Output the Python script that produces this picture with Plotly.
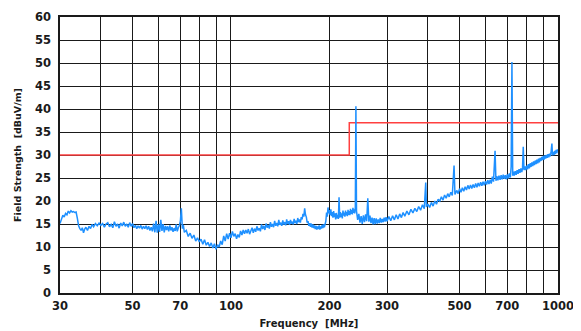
import plotly.graph_objects as go

# Limit line (class limit)
limit_freq = [30, 230, 230, 1000]
limit_level = [30, 30, 37, 37]

freq = [
    30.0, 30.3, 30.6, 30.9, 31.2, 31.5, 31.8, 32.1, 32.4, 32.7, 33.0, 33.3, 33.6, 33.9, 34.2, 34.5, 34.8,
    35.1, 35.4, 35.7, 36.0, 36.4, 36.8, 37.2, 37.6, 38.0, 38.5, 39.0, 39.5, 40.0, 40.5, 41.0, 41.5, 42.0,
    42.5, 43.0, 43.5, 44.0, 44.5, 45.0, 45.5, 46.0, 46.5, 47.0, 47.5, 48.0, 48.5, 49.0, 49.5, 50.0, 50.5,
    51.0, 51.5, 52.0, 52.5, 53.0, 53.5, 54.0, 54.5, 55.0, 55.5, 56.0, 56.5, 57.0, 57.5, 58.0, 58.5, 59.0,
    59.5, 60.0, 60.5, 61.0, 61.5, 62.0, 62.5, 63.0, 63.5, 64.0, 64.5, 65.0, 65.5, 66.0, 66.5, 67.0, 67.5,
    68.0, 68.5, 69.0, 69.5, 70.0, 70.5, 71.0, 71.5, 72.0, 73.0, 74.0, 75.0, 76.0, 77.0, 78.0, 79.0, 80.0,
    81.0, 82.0, 83.0, 84.0, 85.0, 86.0, 87.0, 88.0, 89.0, 90.0, 91.0, 92.0, 93.0, 94.0, 95.0, 96.0, 97.0,
    98.0, 99.0, 100, 101, 102, 103, 104, 105, 106, 107, 108, 109,
    110, 111, 112, 113, 114, 115, 116, 117, 118, 119, 120, 121, 122, 123, 124, 125, 126, 127, 128, 129,
    130, 131, 132, 133, 134, 135, 136, 137, 138, 139, 140, 141, 142, 143, 144, 145, 146, 147, 148, 149,
    150, 151, 152, 153, 154, 155, 156, 157, 158, 159, 160, 161, 162, 163, 164, 165, 166, 167, 168, 169,
    170, 171, 172, 173, 174, 175, 176, 177, 178, 179, 180, 181, 182, 183, 184, 185, 186, 187, 188, 189,
    190, 191, 192, 193, 194, 195, 196, 197, 198, 199, 200, 201, 202, 203, 204, 205, 206, 207, 208, 209,
    210, 211, 212, 213, 214, 215, 216, 217, 218, 219, 220, 221, 222, 223, 224, 225, 226, 227, 228, 229,
    230, 231, 232, 233, 234, 235, 236, 237, 238, 239, 240, 241,
    242, 244, 246, 248, 250, 252, 254, 256, 258, 260, 262, 264, 266, 268, 270, 272, 274, 276, 278, 280,
    282, 284, 286, 288, 290, 292, 294, 296, 298, 300,
    304, 308, 312, 316, 320, 324, 328, 332, 336, 340, 345, 350, 355, 360, 365, 370,
    375, 380, 385, 390, 394, 396, 400, 405, 410, 415, 420, 425, 430, 435, 440, 445, 450, 455, 460, 465,
    470, 475, 481, 484, 490, 495, 500, 505, 510, 515, 520, 525, 530, 535, 540, 545, 550, 555, 560, 565,
    570, 575, 580, 585, 590, 595, 600, 605, 610, 615, 620, 625, 630, 635, 642, 646, 650, 655, 660, 665,
    670, 675, 680, 685, 690, 695, 700, 705, 710, 715, 719, 723, 727, 731, 735, 740, 745, 750, 755, 760,
    765, 770, 775, 779, 783, 787, 792, 797, 802, 807, 812, 817, 822, 827, 832, 837, 842, 847, 852, 857,
    862, 867, 872, 877, 882, 887, 892, 897, 902, 907, 912, 917, 922, 927, 932, 937, 942, 947, 952, 958,
    962, 967, 972, 977, 982, 987, 992, 996, 1000,
]
level = [
    15.1, 15.8, 16.9, 16.5, 17.3, 17.0, 17.8, 17.4, 17.9, 17.6, 17.7, 17.5, 17.6, 16.2, 14.6, 14.0, 13.6,
    14.2, 13.1, 13.9, 14.3, 13.6, 14.5, 14.0, 14.9, 14.4, 15.1, 14.6, 15.2, 14.7, 15.1, 14.3, 15.0, 15.3,
    14.4, 14.9, 14.2, 15.5, 14.5, 15.0, 14.1, 15.2, 14.6, 15.4, 14.5, 15.0, 14.3, 15.3, 14.5, 15.1, 14.2,
    14.7, 14.0, 14.6, 14.1, 14.7, 13.9, 14.5, 14.0, 14.6, 13.8, 14.5, 13.6, 14.3, 13.4, 15.1, 13.2, 15.7,
    13.1, 14.9, 13.3, 15.9, 13.5, 15.0, 13.2, 14.6, 13.7, 14.5, 13.4, 14.7, 13.6, 14.3, 13.3, 14.1, 13.5,
    14.9, 13.4, 14.2, 14.6, 15.6, 18.4, 14.0, 14.8, 13.2, 13.6, 12.3, 13.0, 11.9, 12.6, 11.3, 12.0, 11.1,
    11.7, 10.6, 11.6, 10.4, 11.0, 10.1, 10.9, 9.8, 10.7, 9.5, 10.5, 10.0, 11.3, 10.5, 12.4, 11.3, 12.9,
    11.7, 13.0, 12.0, 13.4, 12.3, 12.9, 11.8, 12.7, 12.1, 13.5, 12.6, 13.7,
    12.9, 13.7, 13.0, 13.9, 12.8, 13.6, 14.2, 13.1, 14.0, 13.3, 14.5, 13.6, 14.1, 13.4, 14.9, 13.9,
    14.6, 13.7, 15.1, 14.2, 14.8, 14.0, 15.4, 14.4, 15.0, 14.3, 15.7, 14.6, 15.2, 14.5, 15.9, 14.8,
    15.3, 14.6, 15.8, 14.9, 15.4, 14.7, 16.0, 15.0, 15.6, 14.8, 15.9, 15.1, 15.5, 14.9, 16.1, 15.2,
    15.7, 15.0, 16.3, 15.4, 16.0, 15.3, 16.5, 16.0, 17.2, 16.6, 18.4, 17.0, 16.5, 15.3, 15.6, 14.6,
    15.2, 14.4, 15.1, 14.2, 14.9, 14.1, 14.7, 13.9, 14.6, 13.8, 14.5, 13.9, 14.7, 13.8, 14.5, 14.0,
    14.8, 14.1, 14.9, 14.3, 15.0, 15.6, 17.5, 16.6, 18.6, 17.3, 18.0, 16.9, 18.2, 16.7, 17.6, 16.4,
    17.8, 16.5, 17.3, 16.0, 17.4, 16.2, 17.0, 16.1, 20.8, 16.4, 17.6, 16.5, 17.3, 16.2, 17.9, 16.8,
    17.5, 16.6, 17.9, 16.9, 17.6, 16.7, 18.1, 17.0, 17.8, 16.9, 18.3, 17.2, 18.0, 17.1, 18.5, 17.4,
    18.2, 17.3, 18.6, 40.6,
    17.8, 15.9, 17.2, 15.3, 16.7, 15.0, 16.9, 15.4, 17.1, 15.6, 20.6, 15.5, 16.8, 15.2, 16.4, 14.9,
    16.3, 15.0, 16.2, 15.1, 16.0, 15.2, 16.3, 15.3, 16.1, 15.4, 16.4, 15.5, 16.5, 15.6,
    16.6, 15.7, 16.8, 15.9, 17.0, 16.1, 17.2, 16.4, 17.5, 16.7, 17.8, 17.0, 18.2, 17.4, 18.4, 17.7,
    18.8, 18.0, 19.2, 18.3, 24.0, 18.7, 19.3, 18.6, 19.7, 18.9, 20.0, 19.3, 20.4, 20.0, 20.9, 20.2,
    21.3, 20.6, 21.6, 20.9, 21.9, 21.2, 27.7, 21.4, 22.3, 21.6, 22.7, 21.9, 22.9, 22.1, 23.1, 22.4,
    23.4, 22.6, 23.5, 22.7, 23.6, 22.9, 23.8, 23.0, 23.9, 23.2, 24.1, 23.3, 24.2, 23.4, 24.3, 23.6,
    24.5, 23.7, 24.6, 23.8, 25.3, 24.2, 30.9, 24.4, 25.4, 24.5, 25.5, 24.6, 25.6, 24.7, 25.7, 24.8,
    25.6, 24.7, 25.8, 24.9, 26.0, 25.1, 27.5, 50.2, 25.5, 26.4, 25.5, 26.5, 25.7, 26.7, 25.9, 26.9,
    26.1, 27.1, 26.3, 27.2, 31.8, 26.7, 27.5, 26.7, 27.7, 26.9, 28.0, 27.1, 28.2, 27.4, 28.4, 27.6,
    28.6, 27.8, 28.8, 28.0, 29.0, 28.2, 29.2, 28.4, 29.4, 28.7, 29.6, 28.9, 29.8, 29.0, 29.9, 29.2,
    30.0, 29.4, 30.2, 29.5, 30.3, 29.7, 30.5, 32.5, 29.9, 30.7, 30.0, 30.9, 30.2, 31.1, 30.4, 31.2,
    30.8,
]

grid_vals = [30, 40, 50, 60, 70, 80, 90, 100, 200, 300, 400, 500, 600, 700, 800, 900, 1000]
grid_text = ["30", "", "50", "", "70", "", "", "100", "200", "300", "", "500", "", "700", "", "", "1000"]
y_ticks = list(range(0, 61, 5))

fig = go.Figure()
fig.add_trace(go.Scatter(x=limit_freq, y=limit_level, mode="lines",
                         line=dict(color="#ff4040", width=1.5), hoverinfo="skip"))
fig.add_trace(go.Scatter(x=freq, y=level, mode="lines",
                         line=dict(color="#1e90ff", width=1.5)))

# The page body has an 8px default margin, so the figure is sized to fit inside it.
font_family = "DejaVu Sans, Verdana, sans-serif"
fig.update_layout(
    width=573, height=323,
    margin=dict(l=52, r=23, t=9, b=38, autoexpand=False),
    paper_bgcolor="white", plot_bgcolor="white",
    showlegend=False,
    font=dict(family=font_family, color="#1a1a1a"),
)
fig.update_xaxes(
    type="log", range=[1.4771, 3.0], automargin=False,
    tickvals=grid_vals, ticktext=grid_text,
    showgrid=True, gridcolor="#1a1a1a", gridwidth=1.2,
    showline=True, linecolor="#1a1a1a", linewidth=1.5, mirror=True,
    ticks="", ticklabelstandoff=1, tickfont=dict(size=11.5, weight="bold"),
    title=dict(text="Frequency\u00a0\u00a0[MHz]", font=dict(size=10, weight="bold"), standoff=8),
    zeroline=False,
)
fig.update_yaxes(
    range=[0, 60], tickvals=y_ticks, automargin=False,
    showgrid=True, gridcolor="#1a1a1a", gridwidth=1.2,
    showline=True, linecolor="#1a1a1a", linewidth=1.5, mirror=True,
    ticks="", ticklabelstandoff=5, tickfont=dict(size=11.5, weight="bold"),
    title=dict(text="Field Strength\u00a0\u00a0[dBuV/m]", font=dict(size=9.5, weight="bold"), standoff=12),
    zeroline=False,
)

fig.write_html("out.html")
